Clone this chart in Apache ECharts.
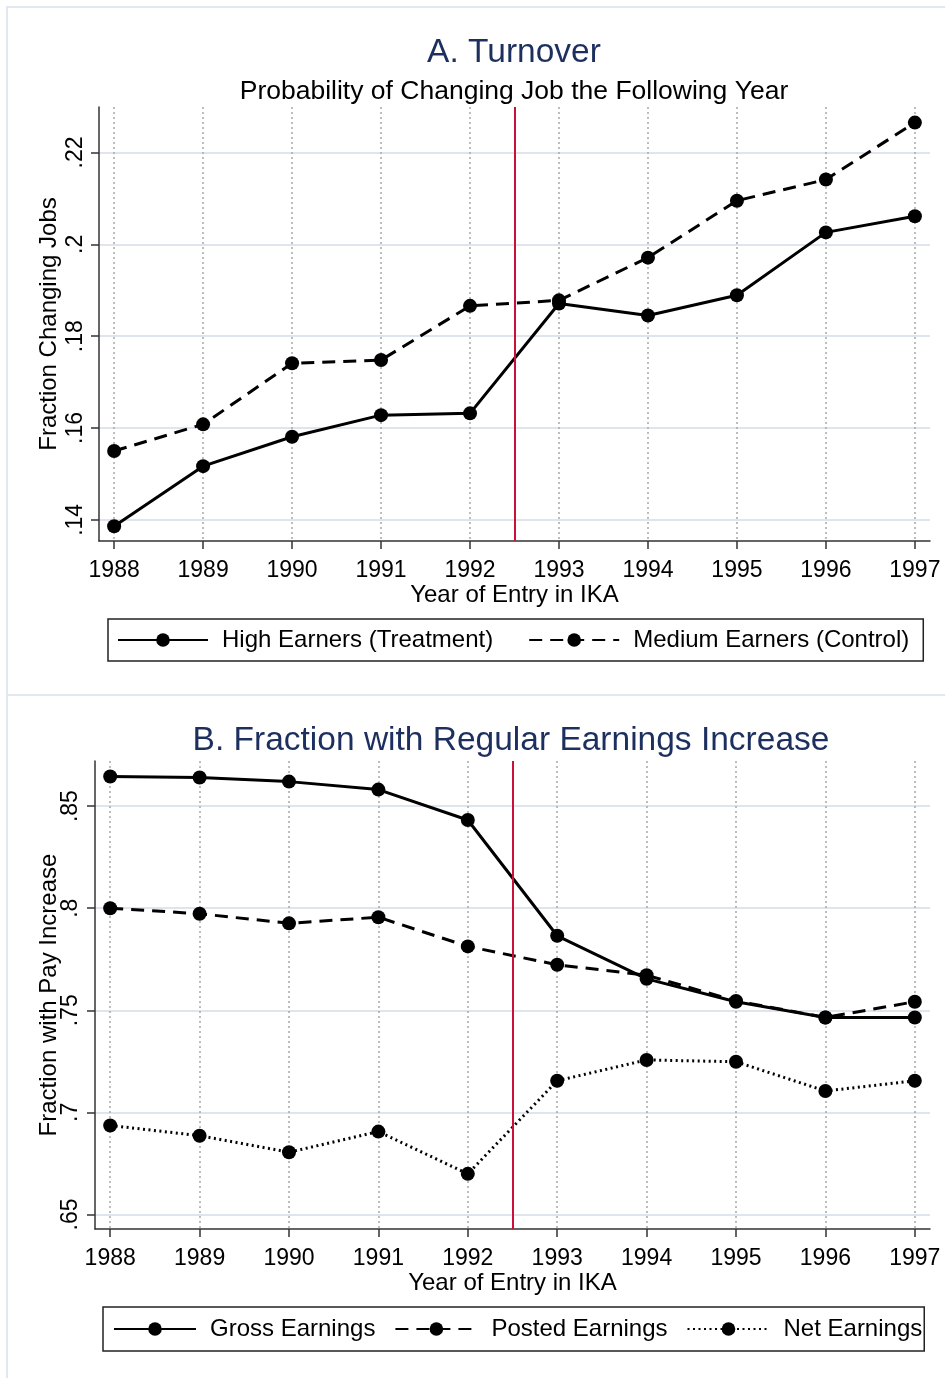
<!DOCTYPE html>
<html>
<head>
<meta charset="utf-8">
<script src="https://cdn.jsdelivr.net/npm/echarts@6/dist/echarts.min.js"></script>
<style>
  html, body { margin: 0; padding: 0; background: #fff; }
  #chart { width: 945px; height: 1378px; }
</style>
</head>
<body>
<div id="chart"></div>
<script>
// year of entry
const years = [1988, 1989, 1990, 1991, 1992, 1993, 1994, 1995, 1996, 1997]
const reformYear = 1992.5

// panel A: fraction changing jobs
const highEarners = [0.1386, 0.1517, 0.1581, 0.1628, 0.1632, 0.1871, 0.1845, 0.1889, 0.2026, 0.2061]
const mediumEarners = [0.1550, 0.1608, 0.1741, 0.1748, 0.1866, 0.1878, 0.1971, 0.2095, 0.2141, 0.2265]
const turnoverTicks = [0.14, 0.16, 0.18, 0.2, 0.22]

// panel B: fraction with pay increase
const grossEarnings = [0.8645, 0.8640, 0.8620, 0.8581, 0.8432, 0.7865, 0.7654, 0.7542, 0.7465, 0.7465]
const postedEarnings = [0.8000, 0.7973, 0.7926, 0.7956, 0.7813, 0.7723, 0.7672, 0.7546, 0.7465, 0.7542]
const netEarnings = [0.6936, 0.6886, 0.6805, 0.6906, 0.6699, 0.7155, 0.7257, 0.7248, 0.7105, 0.7155]
const payTicks = [0.65, 0.7, 0.75, 0.8, 0.85]

const font = 'Liberation Sans, Arial, sans-serif'
const navy = '#1c2f5e'

function pairs(values) {
  return years.map((y, i) => [y, values[i]])
}

function xAxisFor(gridIndex) {
  return {
    type: 'value',
    gridIndex: gridIndex,
    min: 1987.83,
    max: 1997.17,
    name: 'Year of Entry in IKA',
    nameLocation: 'middle',
    nameGap: 40,
    nameTextStyle: { fontFamily: font, fontSize: 24, color: '#000' },
    axisLine: { show: true, lineStyle: { color: '#333', width: 1.5 } },
    axisTick: { show: true, length: 8, customValues: years, lineStyle: { color: '#333', width: 1.5 } },
    axisLabel: {
      customValues: years,
      margin: 18,
      fontFamily: font,
      fontSize: 23,
      color: '#000',
      formatter: v => String(v)
    },
    splitLine: { show: true, lineStyle: { color: '#a8a8a8', width: 1.5, type: [2, 3] } }
  }
}

function yAxisFor(gridIndex, name, min, max, ticks, gap, margin) {
  return {
    type: 'value',
    gridIndex: gridIndex,
    min: min,
    max: max,
    name: name,
    nameLocation: 'middle',
    nameGap: gap,
    nameMoveOverlap: false,
    nameTextStyle: { fontFamily: font, fontSize: 24, color: '#000' },
    axisLine: { show: true, lineStyle: { color: '#333', width: 1.5 } },
    axisTick: { show: true, length: 8, customValues: ticks, lineStyle: { color: '#333', width: 1.5 } },
    axisLabel: {
      customValues: ticks,
      rotate: 90,
      margin: margin,
      fontFamily: font,
      fontSize: 23,
      color: '#000',
      formatter: v => String(+v.toFixed(3)).replace(/^0/, '')
    },
    splitLine: { show: true, lineStyle: { color: '#dfe4ee', width: 2 } }
  }
}

function lineSeries(name, values, gridIndex, dash) {
  return {
    name: name,
    type: 'line',
    xAxisIndex: gridIndex,
    yAxisIndex: gridIndex,
    data: pairs(values),
    symbol: 'circle',
    symbolSize: 14,
    itemStyle: { color: '#000' },
    lineStyle: { color: '#000', width: 3, type: dash },
    animation: false,
    z: 3
  }
}

// red vertical line at the reform
function reformLine() {
  return {
    silent: true,
    symbol: 'none',
    label: { show: false },
    lineStyle: { color: '#c8103a', width: 2, type: 'solid' },
    data: [{ xAxis: reformYear }]
  }
}

const chart = echarts.init(document.getElementById('chart'), null, { renderer: 'canvas' })

const series = [
  lineSeries('High Earners (Treatment)', highEarners, 0, 'solid'),
  lineSeries('Medium Earners (Control)', mediumEarners, 0, [13, 8]),
  lineSeries('Gross Earnings', grossEarnings, 1, 'solid'),
  lineSeries('Posted Earnings', postedEarnings, 1, [13, 8]),
  lineSeries('Net Earnings', netEarnings, 1, [2, 3.5])
]
series[0].markLine = reformLine()
series[2].markLine = reformLine()

chart.setOption({
  backgroundColor: '#fff',
  animation: false,
  graphic: [
    // faint panel frames
    { type: 'rect', shape: { x: 7, y: 7, width: 960, height: 688 }, style: { fill: 'none', stroke: '#e3e7ef', lineWidth: 2 }, silent: true },
    { type: 'rect', shape: { x: 7, y: 695, width: 960, height: 700 }, style: { fill: 'none', stroke: '#e3e7ef', lineWidth: 2 }, silent: true }
  ],
  title: [
    { text: 'A. Turnover', left: 514, top: 36, textAlign: 'center', padding: 0,
      textStyle: { fontFamily: font, fontSize: 33.5, fontWeight: 'normal', color: navy } },
    { text: 'Probability of Changing Job the Following Year', left: 514, top: 78, textAlign: 'center', padding: 0,
      textStyle: { fontFamily: font, fontSize: 26.5, fontWeight: 'normal', color: '#000' } },
    { text: 'B. Fraction with Regular Earnings Increase', left: 511, top: 724, textAlign: 'center', padding: 0,
      textStyle: { fontFamily: font, fontSize: 33.5, fontWeight: 'normal', color: navy } }
  ],
  legend: [
    {
      data: ['High Earners (Treatment)', 'Medium Earners (Control)'],
      left: 108,
      top: 619,
      itemWidth: 90,
      itemHeight: 17,
      itemGap: 35,
      padding: [9, 14, 9, 9],
      borderColor: '#222',
      borderWidth: 1.5,
      borderRadius: 0,
      textStyle: { fontFamily: font, fontSize: 24, color: '#000', padding: [0, 0, 0, 9] }
    },
    {
      data: ['Gross Earnings', 'Posted Earnings', 'Net Earnings'],
      left: 103,
      top: 1307,
      itemWidth: 82,
      itemHeight: 17,
      itemGap: 19,
      padding: [10, 2, 10, 10],
      borderColor: '#222',
      borderWidth: 1.5,
      borderRadius: 0,
      textStyle: { fontFamily: font, fontSize: 24, color: '#000', padding: [0, 0, 0, 9] }
    }
  ],
  grid: [
    { left: 99, right: 15, top: 107, height: 434, containLabel: false },
    { left: 95, right: 15, top: 761, height: 468, containLabel: false }
  ],
  xAxis: [xAxisFor(0), xAxisFor(1)],
  yAxis: [
    yAxisFor(0, 'Fraction Changing Jobs', 0.1354, 0.2299, turnoverTicks, 38, 12),
    yAxisFor(1, 'Fraction with Pay Increase', 0.6429, 0.8721, payTicks, 34, 13)
  ],
  series: series
})
</script>
</body>
</html>
